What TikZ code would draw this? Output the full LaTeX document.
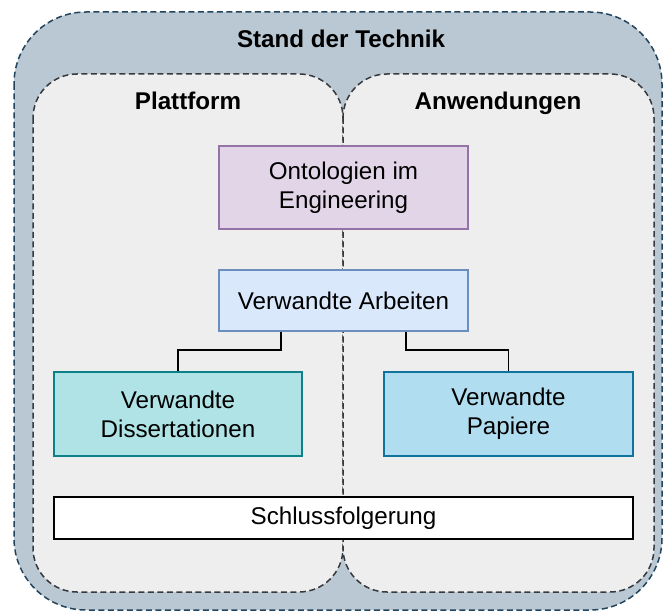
\documentclass[tikz,border=0pt]{standalone}
\usepackage{fontspec}
\setmainfont{Liberation Sans}
\usetikzlibrary{calc}
\definecolor{outerfill}{HTML}{BAC8D3}
\definecolor{outerline}{HTML}{23445D}
\definecolor{innerfill}{HTML}{EEEEEE}
\definecolor{innerline}{HTML}{36393D}
\definecolor{purpleline}{HTML}{9673A6}
\definecolor{purplefill}{HTML}{E1D5E7}
\definecolor{blueline}{HTML}{6C8EBF}
\definecolor{bluefill}{HTML}{DAE8FC}
\definecolor{tealline}{HTML}{0E8088}
\definecolor{tealfill}{HTML}{B0E3E6}
\definecolor{cyanline}{HTML}{10739E}
\definecolor{cyanfill}{HTML}{B1DDF0}
\begin{document}
\begin{tikzpicture}[x=1pt,y=-1pt,
  outerframe/.style={draw=outerline,fill=outerfill,line width=1.5pt,dash pattern=on 6pt off 3.5pt,rounded corners=72pt},
  innerframe/.style={draw=innerline,fill=innerfill,line width=1.5pt,dash pattern=on 6pt off 3.5pt,rounded corners=44pt},
  heading/.style={font=\fontsize{24.2}{29}\selectfont\bfseries,anchor=base,inner sep=0pt},
  box/.style={draw,line width=1.5pt,align=center,inner sep=0pt,font=\fontsize{24.2}{29}\selectfont,text=black},
  link/.style={draw=black,line width=1.5pt}]
\useasboundingbox (0,0) rectangle (664,612);
% frames
\draw[outerframe] (14,12) rectangle (662,610);
\draw[innerframe] (33,74) rectangle (343,592);
\draw[innerframe] (343,74) rectangle (654,592);
% headings
\node[heading] (stand) at (341,48) {Stand der Technik};
\node[heading] (plattform) at (188,110) {Plattform};
\node[heading] (anwendungen) at (498,110) {Anwendungen};
% content boxes
\node[box,draw=purpleline,fill=purplefill,minimum width=249pt,minimum height=83pt] (onto) at (343.5,187.5) {Ontologien im\\Engineering};
\node[box,draw=blueline,fill=bluefill,minimum width=249pt,minimum height=61pt] (arbeiten) at (343.5,300.5) {Verwandte Arbeiten};
\node[box,draw=tealline,fill=tealfill,minimum width=248pt,minimum height=84pt] (diss) at (178,414) {Verwandte\\Dissertationen};
\node[box,draw=cyanline,fill=cyanfill,minimum width=249pt,minimum height=84pt] (papiere) at (508.5,414) {Verwandte\\Papiere};
\node[box,draw=black,fill=white,minimum width=579pt,minimum height=42pt] (schluss) at (343.5,518) {Schlussfolgerung};
% connectors
\draw[link] ($(arbeiten.south west)!0.25!(arbeiten.south east)$) |- (178,350) -- (diss.north);
\draw[link] ($(arbeiten.south west)!0.75!(arbeiten.south east)$) |- (508.5,350) -- (papiere.north);
\end{tikzpicture}
\end{document}
